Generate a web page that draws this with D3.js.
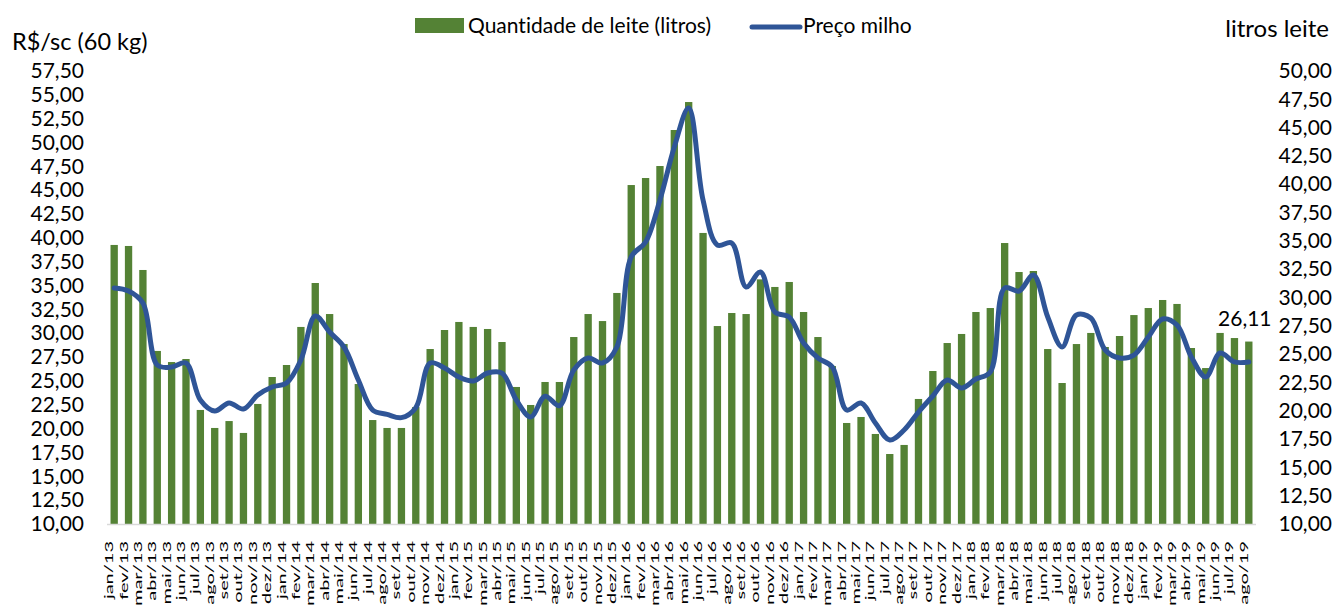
<html>
<head>
  <script src="https://d3js.org/d3.v7.min.js"></script>
  <title>Quantidade de leite x Preço milho</title>
  <style>
    body { margin: 0; background: #fff; }
    text { font-family: Lato, "Open Sans", sans-serif; fill: #000; font-variant-ligatures: none; }
  </style>
</head>
<body>
  <svg id="chart" width="1337" height="607"></svg>

  <script>
    // Categories: months jan/13 .. ago/19
    let monthNames = ["jan", "fev", "mar", "abr", "mai", "jun", "jul", "ago", "set", "out", "nov", "dez"];
    let years = ["13", "14", "15", "16", "17", "18", "19"];
    let months = [];
    years.forEach(y => monthNames.forEach(m => months.push(m + "/" + y)));
    months = months.slice(0, 80);

    // Quantidade de leite (litros) - right axis
    let leite = [34.64, 34.55, 32.43, 25.28, 24.30, 24.57, 20.07, 18.48, 19.09, 18.04, 20.60, 22.98,
                 24.04, 27.40, 31.28, 28.54, 25.89, 22.36, 19.18, 18.48, 18.48, 20.33, 25.45, 27.13,
                 27.84, 27.40, 27.22, 26.07, 22.10, 20.51, 22.54, 22.54, 26.51, 28.54, 27.92, 30.40,
                 39.93, 40.55, 41.61, 44.79, 47.26, 35.70, 27.48, 28.63, 28.54, 31.60, 30.93, 31.37,
                 28.72, 26.51, 23.95, 18.92, 19.45, 17.95, 16.18, 16.98, 21.04, 23.51, 25.98, 26.78,
                 28.72, 29.07, 34.81, 32.25, 32.34, 25.45, 22.45, 25.89, 26.87, 25.63, 26.60, 28.45,
                 29.07, 29.78, 29.43, 25.54, 23.77, 26.87, 26.42, 26.11];

    // Preço milho (R$/sc 60 kg) - left axis
    let milho = [34.75, 34.43, 33.17, 26.67, 26.46, 26.88, 23.00, 21.85, 22.69, 22.06, 23.53, 24.37,
                 24.78, 27.20, 31.81, 30.13, 28.56, 25.10, 21.95, 21.50, 21.15, 22.20, 26.88, 26.36,
                 25.41, 24.99, 25.83, 25.83, 23.00, 21.22, 23.40, 22.40, 26.15, 27.41, 26.88, 28.56,
                 38.00, 39.57, 43.97, 49.53, 53.62, 43.97, 39.25, 39.46, 34.85, 36.42, 32.23, 31.70,
                 28.98, 27.41, 26.46, 21.95, 22.69, 20.59, 18.81, 19.86, 21.74, 23.42, 25.10, 24.26,
                 25.20, 25.94, 34.75, 34.43, 36.11, 31.70, 28.56, 31.91, 31.60, 28.24, 27.41, 27.72,
                 29.61, 31.50, 30.87, 27.51, 25.41, 27.93, 26.99, 26.99];

    // Tick values
    let leftTicks = [10, 12.5, 15, 17.5, 20, 22.5, 25, 27.5, 30, 32.5, 35, 37.5, 40, 42.5, 45, 47.5, 50, 52.5, 55, 57.5];
    let rightTicks = [10, 12.5, 15, 17.5, 20, 22.5, 25, 27.5, 30, 32.5, 35, 37.5, 40, 42.5, 45, 47.5, 50];

    let lastLabel = "26,11";

    let br = d3.formatLocale({decimal: ",", thousands: ".", grouping: [3], currency: ["R$", ""]});
    let fmt = br.format(".2f");

    let svg = d3.select("#chart");
    let plotTop = 71, plotBottom = 524, plotLeft = 107, plotRight = 1256;

    let x = d3.scaleBand().domain(months).range([plotLeft, plotRight]).paddingInner(0.49).paddingOuter(0.245);
    let yL = d3.scaleLinear().domain([10, 57.5]).range([plotBottom, plotTop]);
    let yR = d3.scaleLinear().domain([10, 50]).range([plotBottom, plotTop]);

    // Left axis
    let gL = svg.append("g").attr("transform", "translate(84,0)")
      .call(d3.axisLeft(yL).tickValues(leftTicks).tickFormat(fmt).tickSize(0).tickPadding(0));
    gL.select(".domain").remove();
    gL.selectAll("text").attr("font-size", 21).attr("font-family", "Lato").attr("fill", "#000");

    // Right axis
    let gR = svg.append("g").attr("transform", "translate(1332,0)")
      .call(d3.axisLeft(yR).tickValues(rightTicks).tickFormat(fmt).tickSize(0).tickPadding(0));
    gR.select(".domain").remove();
    gR.selectAll("text").attr("font-size", 21).attr("font-family", "Lato").attr("fill", "#000");

    // Axis titles
    svg.append("text").attr("x", 12).attr("y", 50).attr("font-size", 23.5).text("R$/sc (60 kg)");
    svg.append("text").attr("x", 1329).attr("y", 37).attr("text-anchor", "end").attr("font-size", 24).text("litros leite");

    // Bars
    svg.selectAll(".bar").data(leite).join("rect")
      .attr("class", "bar")
      .attr("x", (d, i) => x(months[i]))
      .attr("width", x.bandwidth())
      .attr("y", d => yR(d))
      .attr("height", d => yR(10) - yR(d))
      .attr("fill", "#548235");

    // Baseline
    svg.append("line")
      .attr("x1", plotLeft).attr("x2", plotRight)
      .attr("y1", plotBottom + 0.5).attr("y2", plotBottom + 0.5)
      .attr("stroke", "#d9d9d9").attr("stroke-width", 1.5);

    // Smoothed price line
    let line = d3.line()
      .x((d, i) => x(months[i]) + x.bandwidth() / 2)
      .y(d => yL(d))
      .curve(d3.curveCatmullRom.alpha(0.5));

    svg.append("path")
      .datum(milho)
      .attr("d", line)
      .attr("fill", "none")
      .attr("stroke", "#2f5597")
      .attr("stroke-width", 5)
      .attr("stroke-linecap", "round")
      .attr("stroke-linejoin", "round");

    // Label on last bar
    let lastI = leite.length - 1;
    svg.append("text")
      .attr("x", x(months[lastI]) + x.bandwidth() / 2 - 4)
      .attr("y", yR(leite[lastI]) - 16)
      .attr("text-anchor", "middle")
      .attr("font-size", 21)
      .text(lastLabel);

    // Month labels (rotated, squeezed like the original)
    svg.selectAll(".mlabel").data(months).join("text")
      .attr("class", "mlabel")
      .attr("transform", d => "translate(" + (x(d) + x.bandwidth() / 2 - 1) + ",541) rotate(-90) scale(1,0.55)")
      .attr("text-anchor", "end")
      .attr("font-size", 20)
      .text(d => d);

    // Legend
    let lg = svg.append("g");
    lg.append("rect").attr("x", 415).attr("y", 18).attr("width", 49).attr("height", 15).attr("fill", "#548235");
    lg.append("text").attr("x", 468).attr("y", 33).attr("font-size", 21).text("Quantidade de leite (litros)");
    lg.append("line").attr("x1", 752).attr("x2", 800).attr("y1", 27).attr("y2", 27)
      .attr("stroke", "#2f5597").attr("stroke-width", 5).attr("stroke-linecap", "round");
    lg.append("text").attr("x", 803).attr("y", 33).attr("font-size", 21).text("Preço milho");
  </script>
</body>
</html>
